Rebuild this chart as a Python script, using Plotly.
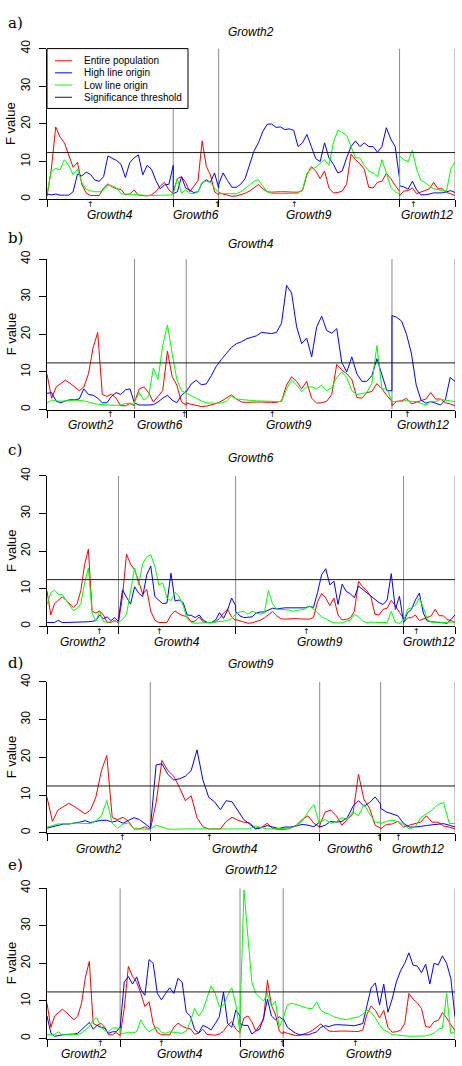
import numpy as np
import plotly.graph_objects as go

W, H = 462, 1066

# ---------------- chromosome layout (arbitrary cM-like units) ----------------
chrom_names = ["Growth2", "Growth4", "Growth6", "Growth9", "Growth12"]
chrom_len = [100, 164, 59, 235, 72]
qtl_pos = [73, 57, 57.5, 99, 17.6]
threshold = 12.4
y_ticks = [0, 10, 20, 30, 40]

# ---------------- Entire population (same scan in every panel) ----------------
red_G2 = [9.4, 3.0, 6.0, 7.0, 7.8, 7.0, 6.0, 5.0, 6.0, 9.5, 16.4, 20.5, 4.0, 3.5, 4.1, 3.0, 1.0, 1.0, 1.6, 1.0]
red_G4 = [0.8, 8.0, 19.2, 16.5, 15.0, 12.0, 8.5, 9.8, 4.0, 1.6, 1.0, 1.0, 1.0, 3.0, 4.1,
          3.3, 2.8, 2.6, 1.2, 1.4, 2.5, 1.1, 0.9, 0.9, 1.2, 2.0, 3.5, 4.5, 2.5, 1.5]
red_G6 = [2.0, 5.5, 6.0, 4.5, 2.0, 3.5, 5.0, 15.5, 8.8, 6.5, 2.0, 1.2]
red_G9 = [1.8, 1.4, 1.0, 0.8, 0.9, 1.2, 1.6, 2.2, 3.0, 3.9, 2.8, 2.0, 1.9, 2.0, 2.0, 2.0, 1.9, 1.9, 1.9, 2.3, 6.5,
          8.7, 7.5, 5.5, 7.5, 3.0, 1.7, 1.8, 2.2, 4.0, 12.0, 10.5, 9.5, 8.0, 3.2, 3.0, 4.5, 4.8, 6.9, 5.5, 3.7, 2.1]
red_G12 = [1.0, 2.2, 2.3, 3.0, 1.5, 2.0, 2.4, 2.8, 4.5, 2.8, 2.8, 1.8, 1.5, 1.0]

# ---------------- panel a (Growth2) ----------------
blue_a_G4 = [1.4, 1.2, 1.4, 1.1, 1.1, 1.1, 2.0, 6.7, 6.2, 7.2, 6.6, 5.1, 4.8, 6.0, 11.5,
             11.0, 10.3, 9.3, 5.8, 9.7, 11.0, 11.8, 6.5, 9.0, 8.0, 5.0, 2.8, 3.8, 4.0, 9.0]
green_a_G4 = [1.5, 7.5, 8.2, 7.8, 10.5, 9.0, 6.5, 8.0, 4.5, 2.6, 2.3, 2.0, 2.0, 2.5, 3.8,
              3.6, 3.0, 1.5, 1.4, 1.4, 1.3, 1.2, 1.0, 1.0, 1.0, 1.0, 1.1, 1.2, 1.1, 1.2]
blue_a_G6 = [1.5, 2.0, 6.0, 3.0, 2.5, 1.8, 2.0, 4.3, 5.2, 4.5, 7.0, 3.0]
green_a_G6 = [1.5, 5.5, 1.6, 2.5, 1.6, 1.5, 2.0, 4.5, 4.8, 4.5, 3.0, 1.8]
blue_a_G9 = [4.0, 7.0, 5.0, 3.2, 3.2, 4.0, 5.5, 9.0, 12.8, 15.0, 18.0, 19.9, 20.0, 19.1, 19.2, 18.5, 18.7, 18.3, 14.0, 15.0, 17.2,
             14.0, 10.8, 10.0, 15.0, 11.0, 9.3, 7.0, 7.5, 11.0, 14.0, 15.5, 14.0, 15.0, 14.0, 14.0, 12.5, 14.0, 19.0, 16.0, 14.0, 5.5]
green_a_G9 = [1.5, 1.5, 1.4, 1.4, 1.5, 2.0, 2.8, 3.8, 4.8, 5.2, 3.5, 2.0, 1.5, 1.5, 1.6, 1.6, 1.6, 1.6, 1.6, 2.5, 7.0,
              8.0, 8.5, 9.5, 10.5, 9.0, 15.0, 18.3, 17.8, 17.0, 14.0, 11.0, 11.0, 9.0, 7.6, 7.0, 6.0, 10.5, 7.0, 3.2, 2.0, 1.4]
blue_a_G12 = [3.6, 3.3, 2.7, 4.8, 2.5, 1.2, 1.2, 1.4, 1.7, 1.7, 1.7, 2.0, 2.3, 1.8]
green_a_G12 = [11.5, 10.5, 10.0, 13.0, 8.0, 5.0, 4.5, 3.5, 2.8, 2.5, 2.3, 2.2, 8.0, 10.0]

# ---------------- panel b (Growth4) ----------------
blue_b_G2 = [4.3, 4.5, 2.2, 1.8, 2.3, 2.6, 2.6, 2.8, 5.5, 4.0, 3.8, 3.0, 1.8, 1.8, 3.5, 4.5, 4.0, 5.2, 5.5, 1.6]
green_b_G2 = [1.7, 2.5, 2.3, 2.2, 2.3, 2.5, 2.5, 2.4, 2.3, 2.0, 1.6, 1.4, 1.3, 1.2, 1.1, 1.1, 1.2, 1.6, 1.7, 1.3]
blue_b_G6 = [1.7, 1.2, 1.1, 1.2, 1.3, 2.0, 3.0, 3.8, 2.5, 1.8, 3.8, 4.8]
green_b_G6 = [2.0, 4.5, 2.5, 3.5, 11.0, 8.0, 17.0, 22.5, 15.0, 8.0, 5.0, 4.3]
blue_b_G9 = [4.7, 6.8, 7.8, 6.6, 6.8, 9.0, 11.5, 13.3, 14.8, 16.5, 17.5, 18.0, 18.8, 19.2, 19.6, 20.5, 20.3, 20.2, 20.5, 23.0, 33.0,
             31.0, 22.0, 17.5, 19.0, 14.0, 22.0, 24.8, 21.0, 20.3, 21.5, 12.5, 10.0, 14.0, 9.5, 7.5, 7.5, 9.0, 13.5, 9.0, 5.0, 5.0]
green_b_G9 = [4.3, 3.6, 3.0, 2.3, 1.8, 1.7, 1.6, 1.7, 2.2, 3.5, 2.8, 2.6, 2.5, 2.4, 2.3, 2.3, 2.3, 2.2, 2.1, 2.1, 5.5,
              7.8, 6.5, 4.8, 6.0, 6.0, 5.5, 6.5, 5.0, 5.8, 8.5, 10.0, 8.5, 5.0, 4.0, 4.3, 4.5, 7.0, 17.0, 5.5, 5.5, 2.1]
blue_b_G12 = [25.0, 24.5, 23.5, 20.0, 15.0, 6.5, 2.5, 1.7, 2.1, 1.7, 1.2, 2.5, 8.5, 7.5]
green_b_G12 = [2.1, 2.1, 2.1, 2.5, 2.1, 2.1, 1.7, 1.2, 2.1, 2.1, 2.7, 2.5, 2.1, 2.1]

# ---------------- panel c (Growth6) ----------------
blue_c_G2 = [1.0, 1.0, 1.0, 1.6, 1.0, 1.0, 1.0, 1.1, 1.1, 1.1, 1.2, 1.2, 1.3, 1.5, 3.0, 2.0, 2.5, 1.5, 2.3, 1.3]
green_c_G2 = [5.8, 8.9, 9.6, 8.5, 8.5, 7.0, 5.5, 4.2, 4.7, 6.0, 11.5, 15.5, 3.5, 1.4, 4.0, 1.2, 1.1, 1.1, 1.1, 1.3]
blue_c_G4 = [1.8, 9.7, 7.7, 5.9, 10.5, 8.8, 7.9, 13.7, 16.0, 7.9, 6.9, 6.0, 6.2, 14.1, 6.7,
             7.0, 6.3, 3.0, 2.9, 2.3, 3.0, 1.6, 1.0, 1.0, 1.6, 3.6, 2.1, 4.3, 7.5, 5.5]
green_c_G4 = [1.0, 1.8, 3.2, 9.0, 15.5, 11.0, 16.7, 18.5, 19.0, 16.0, 11.0, 11.5, 7.5, 6.8, 9.0,
              8.0, 5.5, 2.0, 1.0, 0.8, 0.8, 0.9, 1.0, 1.0, 1.1, 1.2, 1.3, 1.5, 2.0, 3.2]
blue_c_G9 = [4.0, 2.8, 2.3, 2.3, 2.5, 3.5, 3.8, 3.8, 4.2, 4.8, 4.6, 4.8, 4.9, 4.9, 4.9, 4.9, 5.1, 4.9, 5.3, 5.0, 9.0,
             13.7, 15.3, 11.0, 12.0, 5.8, 11.2, 9.3, 8.6, 7.6, 10.7, 9.8, 9.0, 8.1, 7.0, 6.3, 5.8, 7.0, 14.0, 4.5, 8.0, 1.1]
green_c_G9 = [3.2, 3.8, 4.0, 3.2, 4.0, 3.6, 3.2, 3.5, 9.5, 6.0, 4.5, 4.5, 4.4, 4.3, 4.0, 4.2, 4.4, 4.6, 5.3, 4.6, 3.6,
              2.5, 2.0, 1.3, 0.9, 0.8, 0.9, 1.3, 1.6, 3.2, 2.5, 1.4, 1.0, 1.1, 1.0, 1.0, 1.0, 1.0, 4.0, 1.0, 0.8, 1.8]
blue_c_G12 = [1.0, 3.6, 4.5, 7.0, 8.8, 3.5, 1.4, 1.2, 1.1, 1.0, 1.0, 0.8, 1.8, 3.0]
green_c_G12 = [1.4, 4.5, 4.9, 5.6, 7.5, 5.0, 1.8, 1.1, 1.0, 1.1, 1.0, 1.1, 1.1, 1.1]

# ---------------- panel d (Growth9) ----------------
blue_d_G2 = [1.2, 1.5, 2.0, 2.3, 2.3, 2.5, 2.8, 3.2, 2.7, 3.0, 3.3, 3.3, 2.8, 3.2, 2.5, 3.3, 4.0, 3.5, 2.5, 1.3]
green_d_G2 = [1.5, 1.9, 2.3, 2.4, 2.3, 2.6, 2.6, 2.6, 2.4, 3.2, 4.5, 8.5, 2.5, 1.2, 2.3, 2.6, 1.0, 1.0, 1.0, 0.9]
blue_d_G4 = [1.0, 18.0, 18.3, 15.5, 14.0, 14.3, 15.0, 16.5, 22.0, 14.0, 9.4, 8.2, 6.1, 8.5, 8.2,
             5.8, 3.5, 2.3, 1.0, 1.3, 1.9, 1.5, 1.1, 1.5, 1.5, 1.8, 2.2, 2.0, 1.6, 2.8]
green_d_G4 = [1.0, 2.0, 1.5, 1.0, 0.9, 1.0, 1.0, 1.0, 1.0, 1.0, 0.9, 0.9, 0.9, 0.9, 0.9,
              0.9, 0.9, 1.0, 1.8, 1.5, 1.0, 1.0, 1.0, 1.0, 1.2, 1.8, 3.0, 5.5, 7.5, 2.0]
blue_d_G6 = [1.5, 2.0, 3.0, 2.8, 3.0, 4.0, 7.0, 8.5, 7.0, 8.0, 9.5, 7.6]
green_d_G6 = [2.8, 3.5, 2.5, 3.0, 4.0, 3.5, 5.5, 4.5, 7.5, 5.0, 2.8, 2.8]
blue_d_G12 = [6.5, 5.5, 5.0, 4.5, 2.5, 1.5, 1.5, 1.6, 1.9, 2.1, 2.3, 2.4, 2.0, 1.5]
green_d_G12 = [2.4, 3.0, 3.3, 3.0, 2.2, 1.0, 1.5, 4.0, 5.0, 6.0, 7.5, 8.0, 2.5, 2.4]

# ---------------- panel e (Growth12) ----------------
blue_e_G2 = [6.0, 1.5, 0.6, 0.9, 1.0, 1.1, 1.1, 1.2, 1.4, 2.3, 3.3, 4.3, 2.5, 3.5, 3.0, 2.8, 1.4, 1.8, 1.8, 3.0]
green_e_G2 = [1.0, 1.0, 1.1, 1.8, 1.0, 1.0, 1.0, 1.0, 1.1, 1.5, 2.3, 3.2, 5.0, 5.5, 3.0, 2.1, 1.8, 2.8, 2.8, 2.7]
blue_e_G4 = [2.8, 15.0, 16.5, 14.5, 16.4, 13.0, 11.5, 21.0, 20.0, 12.0, 10.3, 12.0, 13.5, 12.0, 16.0,
             15.0, 7.0, 6.0, 2.4, 1.5, 3.5, 3.0, 2.3, 4.0, 5.8, 12.4, 4.0, 3.0, 7.6, 6.0]
green_e_G4 = [1.4, 1.4, 1.7, 1.5, 1.8, 5.0, 3.0, 1.8, 2.5, 3.0, 1.6, 1.4, 1.8, 1.6, 1.5,
              1.4, 2.0, 4.5, 8.0, 6.0, 7.5, 10.5, 14.0, 12.0, 8.5, 8.8, 11.5, 13.5, 9.0, 1.5]
blue_e_G6 = [4.0, 3.5, 3.5, 1.2, 2.0, 2.5, 5.5, 10.5, 6.0, 5.0, 5.8, 5.0]
green_e_G6 = [5.0, 39.5, 28.0, 15.0, 12.0, 11.0, 10.0, 12.0, 8.5, 10.0, 3.0, 5.5]
blue_e_G9 = [5.4, 3.0, 2.2, 1.4, 1.0, 1.0, 1.0, 1.4, 1.8, 3.0, 3.4, 3.2, 3.6, 3.7, 3.7, 3.6, 3.5, 3.4, 3.6, 4.0, 8.8,
             13.5, 14.8, 8.9, 14.5, 7.0, 10.5, 15.0, 18.0, 20.0, 22.8, 19.5, 19.3, 17.5, 19.8, 14.5, 20.0, 19.6, 22.0, 20.0, 16.0, 5.8]
green_e_G9 = [5.4, 9.0, 9.4, 9.1, 8.8, 8.3, 8.0, 8.0, 9.8, 7.5, 6.8, 6.5, 5.8, 5.5, 5.2, 5.0, 5.3, 5.5, 5.8, 6.5, 7.5,
              7.0, 5.5, 3.6, 2.3, 1.8, 1.0, 1.0, 0.8, 0.6, 0.6, 0.6, 0.6, 0.6, 0.7, 1.0, 1.4, 2.5, 2.8, 12.0, 1.4, 1.8]

red_by_chrom = {"Growth2": red_G2, "Growth4": red_G4, "Growth6": red_G6, "Growth9": red_G9, "Growth12": red_G12}

panels = [
    ("a)", "Growth2", {"Growth4": (blue_a_G4, green_a_G4), "Growth6": (blue_a_G6, green_a_G6),
                       "Growth9": (blue_a_G9, green_a_G9), "Growth12": (blue_a_G12, green_a_G12)}),
    ("b)", "Growth4", {"Growth2": (blue_b_G2, green_b_G2), "Growth6": (blue_b_G6, green_b_G6),
                       "Growth9": (blue_b_G9, green_b_G9), "Growth12": (blue_b_G12, green_b_G12)}),
    ("c)", "Growth6", {"Growth2": (blue_c_G2, green_c_G2), "Growth4": (blue_c_G4, green_c_G4),
                       "Growth9": (blue_c_G9, green_c_G9), "Growth12": (blue_c_G12, green_c_G12)}),
    ("d)", "Growth9", {"Growth2": (blue_d_G2, green_d_G2), "Growth4": (blue_d_G4, green_d_G4),
                       "Growth6": (blue_d_G6, green_d_G6), "Growth12": (blue_d_G12, green_d_G12)}),
    ("e)", "Growth12", {"Growth2": (blue_e_G2, green_e_G2), "Growth4": (blue_e_G4, green_e_G4),
                        "Growth6": (blue_e_G6, green_e_G6), "Growth9": (blue_e_G9, green_e_G9)}),
]

# ---------------- layout geometry (pixels from top) ----------------
plot_left, plot_right = 47, 455
panel_top_px = [40, 252.7, 471.7, 680, 888.3]
panel_bot_px = [192.3, 404.7, 623.7, 832.3, 1040.3]
title_px = [23, 237, 453.5, 662, 870]
letter_px = [14, 231, 445.5, 661, 865]

RED, BLUE, GREEN = "#FF0000", "#0000FF", "#00FF00"
FONT = "Liberation Sans"

def py(px):
    return 1 - px / H

def pxx(px):
    return px / W

fig = go.Figure()
shapes = []
annotations = []
layout_axes = {}

for i, (letter, title, series) in enumerate(panels):
    k = i + 1
    xa, ya = f"x{k}", f"y{k}"
    chroms = [c for c in chrom_names if c in series]
    offsets, acc = {}, 0.0
    for c in chroms:
        offsets[c] = acc
        acc += chrom_len[chrom_names.index(c)]
    total = acc
    boundaries = [offsets[c] for c in chroms] + [total]

    xs, rs, bs, gs = [], [], [], []
    for c in chroms:
        L = chrom_len[chrom_names.index(c)]
        r = red_by_chrom[c]
        b, g = series[c]
        pos = np.linspace(0, L, len(r)) + offsets[c]
        xs.extend(pos.tolist())
        rs.extend(r)
        bs.extend(b)
        gs.extend(g)

    for ys, col in ((rs, RED), (bs, BLUE), (gs, GREEN)):
        fig.add_trace(go.Scatter(x=xs, y=ys, mode="lines", line=dict(color=col, width=1),
                                 xaxis=xa, yaxis=ya, showlegend=False, hoverinfo="skip"))

    layout_axes[f"xaxis{k}"] = dict(
        domain=[pxx(plot_left), pxx(plot_right)], range=[0, total], anchor=ya,
        showline=True, linecolor="black", linewidth=1, ticks="outside", ticklen=7,
        tickcolor="black", tickwidth=1, tickvals=boundaries, showticklabels=False,
        showgrid=False, zeroline=False, fixedrange=True)
    layout_axes[f"yaxis{k}"] = dict(
        domain=[py(panel_bot_px[i]), py(panel_top_px[i])], range=[0, 40], anchor=xa,
        showline=True, linecolor="black", linewidth=1, ticks="outside", ticklen=7,
        tickcolor="black", tickvals=y_ticks, tickangle=-90, ticklabelstandoff=4,
        tickfont=dict(size=12, family=FONT, color="black"),
        showgrid=False, zeroline=False, fixedrange=True)

    # chromosome boundary lines
    for bx in boundaries[1:]:
        shapes.append(dict(type="line", xref=xa, yref=ya, x0=bx, x1=bx, y0=0, y1=40,
                           line=dict(color="#8a8a8a", width=1), layer="below"))
    # significance threshold
    shapes.append(dict(type="line", xref=xa, yref=ya, x0=0, x1=total, y0=threshold, y1=threshold,
                       line=dict(color="#1a1a1a", width=1), layer="above"))

    # chromosome labels + QTL arrows
    for c in chroms:
        L = chrom_len[chrom_names.index(c)]
        annotations.append(dict(xref=xa, yref="paper", x=offsets[c] + L / 2, y=py(panel_bot_px[i] + 16),
                                text=f"<i>{c}</i>", showarrow=False, xanchor="center", yanchor="middle",
                                font=dict(size=12, family=FONT, color="black")))
        annotations.append(dict(xref=xa, yref="paper", x=offsets[c] + qtl_pos[chrom_names.index(c)],
                                y=py(panel_bot_px[i] + 5), text="↑", showarrow=False,
                                xanchor="center", yanchor="middle",
                                font=dict(size=8, family="DejaVu Sans", color="black")))

    # titles, panel letters, y titles
    annotations.append(dict(xref="paper", yref="paper", x=pxx((plot_left + plot_right) / 2), y=py(title_px[i]),
                            text=f"<i>{title}</i>", showarrow=False, xanchor="center", yanchor="middle",
                            font=dict(size=12, family=FONT, color="black")))
    annotations.append(dict(xref="paper", yref="paper", x=pxx(6), y=py(letter_px[i]),
                            text=letter, showarrow=False, xanchor="left", yanchor="middle",
                            font=dict(size=15, family="DejaVu Serif", color="black")))
    annotations.append(dict(xref="paper", yref="paper", x=pxx(11),
                            y=py((panel_top_px[i] + panel_bot_px[i]) / 2),
                            text="F value", textangle=-90, showarrow=False, xanchor="center", yanchor="middle",
                            font=dict(size=13, family=FONT, color="black")))

# ---------------- legend (panel a) ----------------
legend_labels = ["Entire population", "High line origin", "Low line origin", "Significance threshold"]
legend_colors = [RED, BLUE, GREEN, "#1a1a1a"]
legend_rows_px = [52.3, 64.5, 76.8, 89.2]
shapes.append(dict(type="rect", xref="paper", yref="paper", x0=pxx(47), x1=pxx(188),
                   y0=py(100.5), y1=py(40), line=dict(color="black", width=1),
                   fillcolor="white", layer="above"))
for lab, col, ry in zip(legend_labels, legend_colors, legend_rows_px):
    shapes.append(dict(type="line", xref="paper", yref="paper", x0=pxx(55), x1=pxx(72),
                       y0=py(ry), y1=py(ry), line=dict(color=col, width=1), layer="above"))
    annotations.append(dict(xref="paper", yref="paper", x=pxx(82), y=py(ry), text=lab,
                            showarrow=False, xanchor="left", yanchor="middle",
                            font=dict(size=10, family=FONT, color="black")))

fig.update_layout(
    width=W, height=H, margin=dict(l=0, r=0, t=0, b=0),
    paper_bgcolor="white", plot_bgcolor="white",
    font=dict(family=FONT, color="black"),
    showlegend=False, shapes=shapes, annotations=annotations,
    **layout_axes,
)

fig.write_html(
    "out.html",
    config={"displayModeBar": False},
    post_script="document.body.style.margin='0px';document.body.style.overflow='hidden';",
)
